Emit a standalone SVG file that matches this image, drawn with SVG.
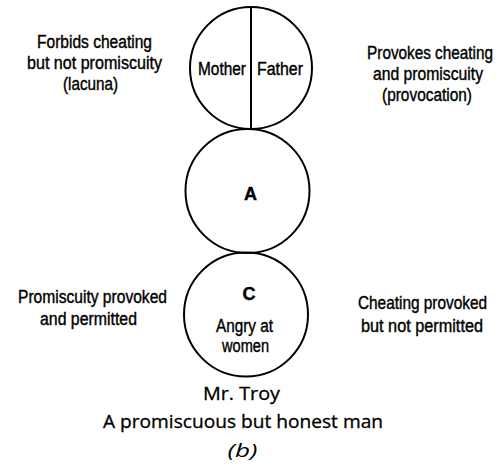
<svg xmlns="http://www.w3.org/2000/svg" width="498" height="465" viewBox="0 0 498 465">
  <style>
    .ring { fill: none; stroke: #000; stroke-width: 2; }
    .split { stroke: #000; stroke-width: 2; }
    .lbl { font-family: "Liberation Sans", Arial, sans-serif; font-size: 18px; fill: #000; stroke: #000; stroke-width: 0.4; text-anchor: middle; }
    .cap { font-family: "Open Sans", "Liberation Sans", sans-serif; font-size: 18px; fill: #000; stroke: #000; stroke-width: 0.3; text-anchor: middle; }
    .fig { font-family: "Open Sans", "Liberation Sans", sans-serif; font-size: 18px; font-style: italic; fill: #000; text-anchor: middle; }
  </style>
  <rect width="498" height="465" fill="#fff"/>

  <!-- parental layer: mother / father split circle -->
  <g id="parents">
    <circle class="ring" cx="251" cy="68" r="61"/>
    <text class="lbl" x="222" y="75" textLength="48" lengthAdjust="spacingAndGlyphs">Mother</text>
    <text class="lbl" x="280" y="75" textLength="46" lengthAdjust="spacingAndGlyphs">Father</text>
  </g>

  <!-- adult layer -->
  <g id="adult">
    <circle class="ring" cx="247.5" cy="191" r="62"/>
    <text class="lbl" x="250.5" y="200" font-weight="bold">A</text>
  </g>

  <!-- child layer -->
  <g id="child">
    <circle class="ring" cx="246" cy="314.5" r="62"/>
    <text class="lbl" x="249" y="300" font-weight="bold">C</text>
    <text class="lbl" x="244.5" y="332" textLength="57" lengthAdjust="spacingAndGlyphs">Angry at</text>
    <text class="lbl" x="245.5" y="352" textLength="47" lengthAdjust="spacingAndGlyphs">women</text>
  </g>

  <!-- divider between the two parents -->
  <g id="connectors">
    <line class="split" x1="251" y1="7" x2="251" y2="129"/>
  </g>

  <!-- side annotations -->
  <g id="note-mother">
    <text class="lbl" x="94.5" y="48" textLength="115" lengthAdjust="spacingAndGlyphs">Forbids cheating</text>
    <text class="lbl" x="94.5" y="69" textLength="135" lengthAdjust="spacingAndGlyphs">but not promiscuity</text>
    <text class="lbl" x="90.5" y="90" textLength="55" lengthAdjust="spacingAndGlyphs">(lacuna)</text>
  </g>
  <g id="note-father">
    <text class="lbl" transform="translate(430 59) scale(0.85 1)" x="0" y="0" textLength="148" lengthAdjust="spacingAndGlyphs">Provokes cheating</text>
    <text class="lbl" x="428" y="80" textLength="110" lengthAdjust="spacingAndGlyphs">and promiscuity</text>
    <text class="lbl" x="427" y="101" textLength="90" lengthAdjust="spacingAndGlyphs">(provocation)</text>
  </g>
  <g id="note-promiscuity">
    <text class="lbl" x="92.5" y="303" textLength="149" lengthAdjust="spacingAndGlyphs">Promiscuity provoked</text>
    <text class="lbl" x="88.5" y="325" textLength="97" lengthAdjust="spacingAndGlyphs">and permitted</text>
  </g>
  <g id="note-cheating">
    <text class="lbl" transform="translate(422.5 309) scale(0.85 1)" x="0" y="0" textLength="152" lengthAdjust="spacingAndGlyphs">Cheating provoked</text>
    <text class="lbl" x="422" y="332" textLength="122" lengthAdjust="spacingAndGlyphs">but not permitted</text>
  </g>

  <!-- caption -->
  <g id="caption">
    <text class="cap" x="241.5" y="400" textLength="77" lengthAdjust="spacingAndGlyphs">Mr. Troy</text>
    <text class="cap" x="243" y="428" textLength="280" lengthAdjust="spacingAndGlyphs">A promiscuous but honest man</text>
    <text class="fig" x="242.5" y="457" textLength="30" lengthAdjust="spacingAndGlyphs">(b)</text>
  </g>
</svg>
